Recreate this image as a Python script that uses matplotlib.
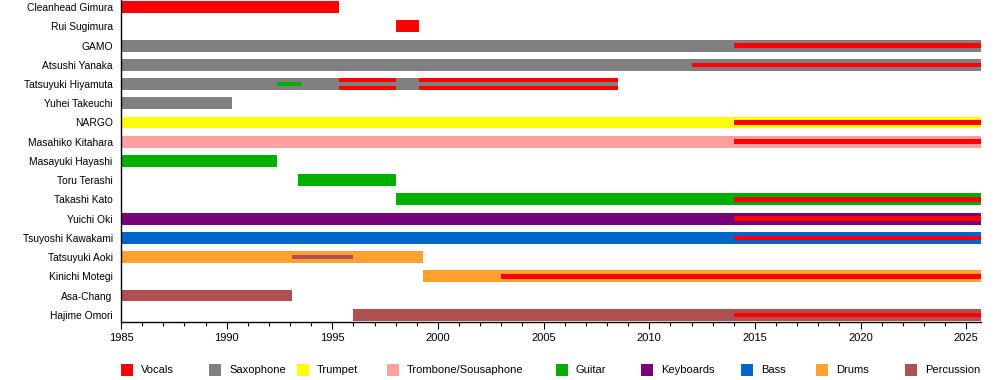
import matplotlib
matplotlib.use("Agg")
import matplotlib.pyplot as plt
from matplotlib.patches import Rectangle
from matplotlib.ticker import MultipleLocator

plt.rcParams['font.family'] = ['Liberation Sans', 'DejaVu Sans']
plt.rcParams['font.size'] = 8

# band members, top to bottom
members = ["Cleanhead Gimura", "Rui Sugimura", "GAMO", "Atsushi Yanaka",
           "Tatsuyuki Hiyamuta", "Yuhei Takeuchi", "NARGO", "Masahiko Kitahara",
           "Masayuki Hayashi", "Toru Terashi", "Takashi Kato", "Yuichi Oki",
           "Tsuyoshi Kawakami", "Tatsuyuki Aoki", "Kinichi Motegi", "Asa-Chang",
           "Hajime Omori"]

roles = ["Vocals", "Saxophone", "Trumpet", "Trombone/Sousaphone", "Guitar",
         "Keyboards", "Bass", "Drums", "Percussion"]
role_colors = ["#ff0000", "#808080", "#ffff00", "#ff9f9f", "#00b000",
               "#780078", "#0066cc", "#ffa030", "#b05050"]

START = 1985
END = 2025.7

# main role periods: (member, start, end, role)
main_spells = [
    ("Cleanhead Gimura", 1985, 1995.3, "Vocals"),
    ("Rui Sugimura", 1998, 1999.1, "Vocals"),
    ("GAMO", 1985, END, "Saxophone"),
    ("Atsushi Yanaka", 1985, END, "Saxophone"),
    ("Tatsuyuki Hiyamuta", 1985, 2008.5, "Saxophone"),
    ("Yuhei Takeuchi", 1985, 1990.25, "Saxophone"),
    ("NARGO", 1985, END, "Trumpet"),
    ("Masahiko Kitahara", 1985, END, "Trombone/Sousaphone"),
    ("Masayuki Hayashi", 1985, 1992.4, "Guitar"),
    ("Toru Terashi", 1993.4, 1998, "Guitar"),
    ("Takashi Kato", 1998, END, "Guitar"),
    ("Yuichi Oki", 1985, END, "Keyboards"),
    ("Tsuyoshi Kawakami", 1985, END, "Bass"),
    ("Tatsuyuki Aoki", 1985, 1999.3, "Drums"),
    ("Kinichi Motegi", 1999.3, END, "Drums"),
    ("Asa-Chang", 1985, 1993.1, "Percussion"),
    ("Hajime Omori", 1996, END, "Percussion"),
]

# secondary roles drawn as thin line inside the bar
extra_spells = [
    ("GAMO", 2014, END, "Vocals"),
    ("Atsushi Yanaka", 2012, END, "Vocals"),
    ("Tatsuyuki Hiyamuta", 1992.4, 1993.5, "Guitar"),
    ("NARGO", 2014, END, "Vocals"),
    ("Masahiko Kitahara", 2014, END, "Vocals"),
    ("Takashi Kato", 2014, END, "Vocals"),
    ("Yuichi Oki", 2014, END, "Vocals"),
    ("Tsuyoshi Kawakami", 2014, END, "Vocals"),
    ("Tatsuyuki Aoki", 1993.1, 1996, "Percussion"),
    ("Kinichi Motegi", 2003, END, "Vocals"),
    ("Hajime Omori", 2014, END, "Vocals"),
]

# lead vocal periods drawn as outer stripes around the main role
lead_spells = [
    ("Tatsuyuki Hiyamuta", 1995.3, 1998, "Vocals", "Saxophone"),
    ("Tatsuyuki Hiyamuta", 1999.1, 2008.5, "Vocals", "Saxophone"),
]


def main():
    color = dict(zip(roles, role_colors))
    row = {m: i for i, m in enumerate(members)}
    h = 0.62

    fig = plt.figure(figsize=(10, 3.8), dpi=100)
    ax = fig.add_axes([0.121, 0.153, 0.860, 0.847])

    for m, s, e, r in main_spells:
        ax.barh(row[m], e - s, left=s, height=h, color=color[r], linewidth=0)
    for m, s, e, outer, inner in lead_spells:
        ax.barh(row[m], e - s, left=s, height=h, color=color[outer], linewidth=0)
        ax.barh(row[m], e - s, left=s, height=h / 3, color=color[inner], linewidth=0)
    for m, s, e, r in extra_spells:
        ax.barh(row[m], e - s, left=s, height=0.23, color=color[r], linewidth=0)

    ax.set_ylim(len(members) - 1 + 0.37, -0.37)
    ax.set_xlim(START, END)
    ax.set_yticks(range(len(members)))
    ax.set_yticklabels(members, fontsize=7.4)
    ax.tick_params(axis='y', length=0, pad=6)
    ax.xaxis.set_major_locator(MultipleLocator(5))
    ax.xaxis.set_minor_locator(MultipleLocator(1))
    ax.tick_params(axis='x', which='major', length=5, width=0.8, pad=3)
    ax.tick_params(axis='x', which='minor', length=3, width=0.8)
    for side in ["top", "right"]:
        ax.spines[side].set_visible(False)
    ax.spines["left"].set_linewidth(1)
    ax.spines["bottom"].set_linewidth(1)

    # legend along the bottom
    patch_x = [121, 209, 297, 387, 556, 641, 741, 816, 905]
    for px, r in zip(patch_x, roles):
        fig.patches.append(Rectangle((px / 1000, (380 - 376) / 380), 12 / 1000, 12 / 380,
                                     transform=fig.transFigure, color=color[r], linewidth=0))
        fig.text((px + 20) / 1000, (380 - 370) / 380, r, va='center', ha='left')

    fig.savefig("out.png", dpi=100)


if __name__ == "__main__":
    main()
